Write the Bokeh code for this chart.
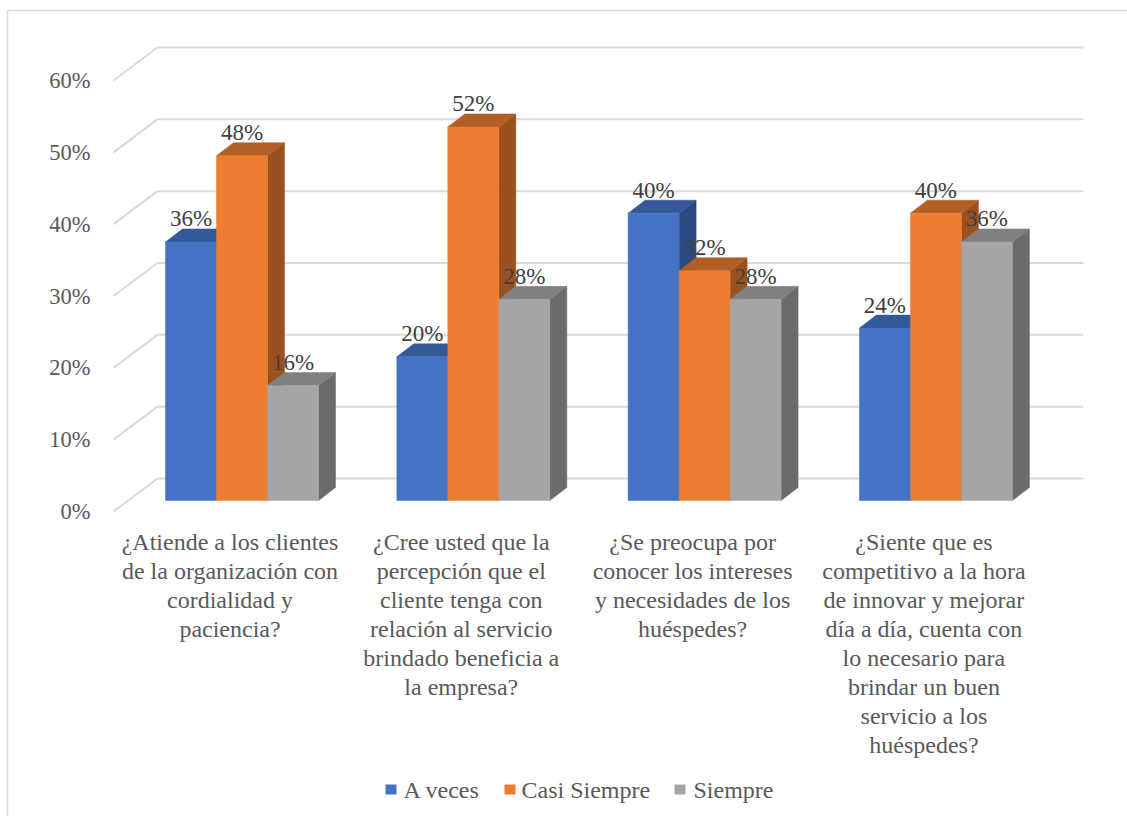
from bokeh.plotting import figure
from bokeh.models import Range1d
from bokeh.core.properties import value
from bokeh.embed import file_html
from bokeh.resources import INLINE

# ---------------- data ----------------
categories = [
    "¿Atiende a los clientes\nde la organización con\ncordialidad y\npaciencia?",
    "¿Cree usted que la\npercepción que el\ncliente tenga con\nrelación al servicio\nbrindado beneficia a\nla empresa?",
    "¿Se preocupa por\nconocer los intereses\ny necesidades de los\nhuéspedes?",
    "¿Siente que es\ncompetitivo a la hora\nde innovar y mejorar\ndía a día, cuenta con\nlo necesario para\nbrindar un buen\nservicio a los\nhuéspedes?",
]
series_names = ["A veces", "Casi Siempre", "Siempre"]
a_veces = [36, 20, 40, 24]
casi_siempre = [48, 52, 32, 40]
siempre = [16, 28, 28, 36]
y_ticks = [0, 10, 20, 30, 40, 50, 60]

# ---------------- style / layout ----------------
W, H = 1127, 816
GX = 231.3          # px per category
GY = 7.1833         # px per percent
X0_PX = 241.5       # px of first category centre (front face)
Y0_PX = 511.0       # px of 0% on the front plane


def X(px):
    return (px - X0_PX) / GX


def Y(px):
    return (Y0_PX - px) / GY


BW = 51 / GX                 # bar width
DX, DY = 17 / GX, 13 / GY    # bar depth offset
BASE = 11 / GY               # bar floor (mid depth)
BACK_DX_PX, BACK_DY = 44, 33 / GY  # back wall offset

front_cols = ["#4472C4", "#ED7D31", "#A5A5A5"]
top_cols = ["#34599A", "#B35E25", "#808080"]
side_cols = ["#2B4A82", "#9A501F", "#6B6B6B"]
grid_col = "#D9D9D9"
txt_col = "#595959"
lbl_col = "#404040"
FONT = value("Liberation Serif")

p = figure(width=W, height=H, output_backend="svg", toolbar_location=None,
           x_range=Range1d(X(0), X(W)), y_range=Range1d(Y(H), Y(0)),
           x_axis_location=None, y_axis_location=None, min_border=0,
           outline_line_color=None, background_fill_color="white")
p.xgrid.visible = False
p.ygrid.visible = False

# chart border
p.line([X(7), X(7), X(W + 5)], [Y(H + 5), Y(10), Y(10)],
       line_color=grid_col, line_width=1.5)

# gridlines (front diagonal + back wall)
gx, gy = [], []
for t in y_ticks:
    gx.append([X(113), X(113 + BACK_DX_PX), X(1083)])
    gy.append([t, t + BACK_DY, t + BACK_DY])
p.multi_line(gx, gy, line_color=grid_col, line_width=2)

# tick labels
p.text(x=[X(90)] * len(y_ticks), y=y_ticks, text=[f"{t}%" for t in y_ticks],
       text_align="right", text_baseline="middle", text_font=FONT,
       text_font_size="22.5px", text_color=txt_col)

# bars
all_series = [a_veces, casi_siempre, siempre]
labels_x, labels_y, labels_t = [], [], []
for s, vals in enumerate(all_series):
    off = (s - 1) * BW
    left = [i + off - BW / 2 for i in range(len(vals))]
    right = [i + off + BW / 2 for i in range(len(vals))]
    top = [BASE + v for v in vals]
    side_xs = [[r, r, r + DX, r + DX] for r in right]
    side_ys = [[BASE, t, t + DY, BASE + DY] for t in top]
    top_xs = [[l, r, r + DX, l + DX] for l, r in zip(left, right)]
    top_ys = [[t, t, t + DY, t + DY] for t in top]
    p.patches(side_xs, side_ys, fill_color=side_cols[s], line_color=side_cols[s], line_width=0.5)
    p.patches(top_xs, top_ys, fill_color=top_cols[s], line_color=top_cols[s], line_width=0.5)
    p.quad(left=left, right=right, bottom=[BASE] * len(vals), top=top,
           fill_color=front_cols[s], line_color=front_cols[s], line_width=0.5)
    for i, v in enumerate(vals):
        labels_x.append(i + off)
        labels_y.append(BASE + v + DY + 10 / GY)
        labels_t.append(f"{v}%")

p.text(x=labels_x, y=labels_y, text=labels_t, text_align="center",
       text_baseline="middle", text_font=FONT, text_font_size="23px",
       text_color=lbl_col)

# category labels
cx, cy, ct = [], [], []
for i, c in enumerate(categories):
    for k, line in enumerate(c.split("\n")):
        cx.append(i - 12 / GX)
        cy.append(Y(541 + 29 * k))
        ct.append(line)
p.text(x=cx, y=cy, text=ct, text_align="center", text_baseline="middle",
       text_font=FONT, text_font_size="24px", text_color=txt_col)

# legend
sq_px = [385, 504, 674]
tx_px = [403, 521, 693]
p.rect(x=[X(px + 5.5) for px in sq_px], y=[Y(789)] * 3, width=11, height=10,
       width_units="screen", height_units="screen",
       fill_color=front_cols, line_color=None)
p.text(x=[X(px) for px in tx_px], y=[Y(789)] * 3, text=series_names,
       text_align="left", text_baseline="middle", text_font=FONT,
       text_font_size="24px", text_color=txt_col)

open("out.html", "w").write(file_html(p, INLINE))
